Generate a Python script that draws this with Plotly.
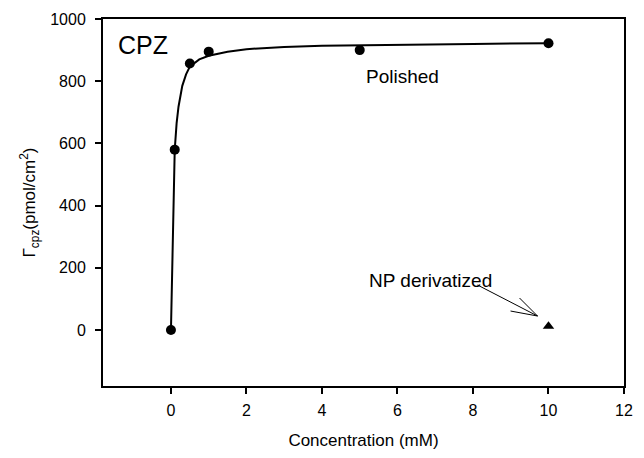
import plotly.graph_objects as go

# Measured data (Polished electrode)
conc_polished = [0, 0.1, 0.5, 1, 5, 10]
gamma_polished = [0, 580, 857, 895, 900, 922]

# NP derivatized electrode
conc_np = [10]
gamma_np = [12]

# Fitted curve
fit_conc = [0, 0.05, 0.1, 0.15, 0.2, 0.3, 0.4, 0.5, 0.75, 1, 1.5, 2, 3, 4, 5, 6, 8, 10]
fit_gamma = [0, 300, 580, 665, 718, 785, 822, 847, 870, 882, 895, 903, 910, 914, 916, 918, 920, 922]

x_ticks = [0, 2, 4, 6, 8, 10, 12]
y_ticks = [0, 200, 400, 600, 800, 1000]

FONT = "Liberation Sans, Arial, Helvetica, sans-serif"

fig = go.Figure()
fig.add_trace(go.Scatter(x=fit_conc, y=fit_gamma, mode="lines",
                         line=dict(color="black", width=2), hoverinfo="skip",
                         showlegend=False))
fig.add_trace(go.Scatter(x=conc_polished, y=gamma_polished, mode="markers",
                         marker=dict(color="black", size=10, symbol="circle"),
                         showlegend=False))
fig.add_trace(go.Scatter(x=conc_np, y=gamma_np, mode="markers",
                         marker=dict(color="black", size=10, symbol="triangle-up"),
                         showlegend=False))

anns = [
    dict(x=-1.45, y=918, text="CPZ", showarrow=False, xanchor="left", yanchor="middle",
         font=dict(size=25, color="black", family=FONT)),
    dict(x=5.12, y=815, text="Polished", showarrow=False, xanchor="left", yanchor="middle",
         font=dict(size=19, color="black", family=FONT)),
    dict(x=5.2, y=158, text="NP derivatized", showarrow=False, xanchor="left", yanchor="middle",
         font=dict(size=19, color="black", family=FONT)),
]

# arrow pointing at the NP point: shaft + open arrowhead barbs (pixel offsets from tip)
arrow_tip = (9.71, 45)
shapes = []
for dx, dy in [(-60, 31), (-18, 18), (-27, 5)]:
    shapes.append(dict(type="line", xref="x", yref="y",
                       xsizemode="pixel", ysizemode="pixel",
                       xanchor=arrow_tip[0], yanchor=arrow_tip[1],
                       x0=0, y0=0, x1=dx, y1=dy,
                       line=dict(color="black", width=1)))

fig.update_layout(
    width=644, height=458,
    margin=dict(l=103, r=11, t=19, b=66),
    paper_bgcolor="white", plot_bgcolor="white",
    font=dict(family=FONT, size=16, color="black"),
    annotations=anns,
    shapes=shapes,
    xaxis=dict(range=[-1.8, 12], tickvals=x_ticks, showgrid=False, zeroline=False,
               showline=True, linecolor="black", linewidth=2, mirror=True,
               ticks="outside", ticklen=6, tickwidth=2, tickcolor="black",
               tickfont=dict(size=16), ticklabelstandoff=3,
               title=dict(text="Concentration (mM)", font=dict(size=17), standoff=16)),
    yaxis=dict(range=[-180, 1000], tickvals=y_ticks, showgrid=False, zeroline=False,
               showline=True, linecolor="black", linewidth=2, mirror=True,
               ticks="outside", ticklen=6, tickwidth=2, tickcolor="black",
               tickfont=dict(size=16), ticklabelstandoff=6,
               title=dict(text="Γ<sub>cpz</sub>(pmol/cm<sup>2</sup>)", font=dict(size=17), standoff=10)),
)

fig.write_html("out.html")
